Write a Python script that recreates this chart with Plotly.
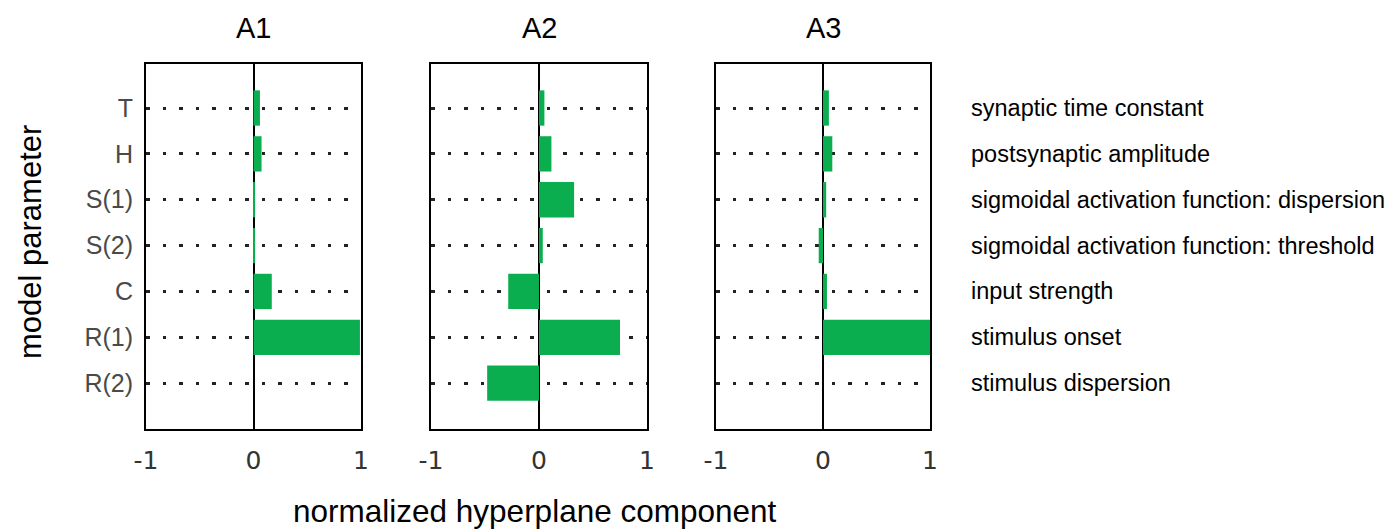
import plotly.graph_objects as go

# Model parameters (rows, top to bottom) and their descriptions
parameters = ["T", "H", "S(1)", "S(2)", "C", "R(1)", "R(2)"]
descriptions = [
    "synaptic time constant",
    "postsynaptic amplitude",
    "sigmoidal activation function: dispersion",
    "sigmoidal activation function: threshold",
    "input strength",
    "stimulus onset",
    "stimulus dispersion",
]

# Normalized hyperplane components for each condition
panel_titles = ["A1", "A2", "A3"]
a1_values = [0.06, 0.075, 0.015, 0.015, 0.17, 0.99, 0.0]
a2_values = [0.05, 0.115, 0.325, 0.035, -0.285, 0.75, -0.48]
a3_values = [0.055, 0.087, 0.03, -0.04, 0.037, 1.0, 0.0]
panel_values = [a1_values, a2_values, a3_values]

x_ticks = [-1, 0, 1]
x_ticktext = ["-1", "0", "1"]

W, H = 1397, 530
BAR_COLOR = "#0bae4f"

# Panel extents in pixels (left, right), shared vertical extent
panel_px = [(146, 361), (431, 647), (716, 930)]
top_px, bottom_px = 64, 429

rows = list(range(1, len(parameters) + 1))

fig = go.Figure()
layout = dict(
    width=W,
    height=H,
    margin=dict(l=0, r=0, t=0, b=0, autoexpand=False),
    paper_bgcolor="white",
    plot_bgcolor="white",
    showlegend=False,
    annotations=[],
)

for i, (vals, (x0, x1)) in enumerate(zip(panel_values, panel_px)):
    n = "" if i == 0 else str(i + 1)
    xa, ya = "x" + n, "y" + n
    fig.add_trace(
        go.Bar(
            x=vals,
            y=rows,
            orientation="h",
            marker=dict(color=BAR_COLOR, line=dict(width=0)),
            width=0.77,
            xaxis=xa,
            yaxis=ya,
            hoverinfo="x+y",
        )
    )
    layout["xaxis" + n] = dict(
        domain=[x0 / W, x1 / W],
        anchor=ya,
        range=[-1, 1],
        tickvals=x_ticks,
        ticktext=x_ticktext,
        tickfont=dict(family="DejaVu Sans", size=25, color="#333333"),
        ticks="",
        ticklabelstandoff=8,
        showgrid=False,
        zeroline=True,
        zerolinecolor="black",
        zerolinewidth=1.5,
        showline=True,
        mirror=True,
        linecolor="black",
        linewidth=2,
        automargin=False,
        fixedrange=True,
    )
    layout["yaxis" + n] = dict(
        domain=[1 - bottom_px / H, 1 - top_px / H],
        anchor=xa,
        range=[8.0, 0.04],
        tickvals=rows,
        ticktext=parameters if i == 0 else [""] * len(rows),
        showticklabels=(i == 0),
        tickfont=dict(family="Liberation Sans", size=25, color="#4a4a4a"),
        ticks="",
        ticklabelstandoff=6,
        showgrid=True,
        gridcolor="#222222",
        gridwidth=2.5,
        griddash="3.5px,13px",
        zeroline=False,
        showline=True,
        mirror=True,
        linecolor="black",
        linewidth=2,
        automargin=False,
        fixedrange=True,
    )
    layout["annotations"].append(
        dict(
            text=panel_titles[i],
            x=(x0 + x1) / 2 / W,
            y=1 - 28 / H,
            xref="paper",
            yref="paper",
            xanchor="center",
            yanchor="middle",
            showarrow=False,
            font=dict(family="Liberation Sans", size=29, color="black"),
        )
    )

# Parameter descriptions to the right of the last panel
for r, desc in zip(rows, descriptions):
    layout["annotations"].append(
        dict(
            text=desc,
            x=969 / W,
            y=r,
            xref="paper",
            yref="y3",
            xanchor="left",
            yanchor="middle",
            showarrow=False,
            font=dict(family="Liberation Sans", size=23.5, color="black"),
        )
    )

# Shared axis titles
layout["annotations"].append(
    dict(
        text="model parameter",
        x=30 / W,
        y=1 - 242 / H,
        xref="paper",
        yref="paper",
        xanchor="center",
        yanchor="middle",
        textangle=-90,
        showarrow=False,
        font=dict(family="Liberation Sans", size=31, color="black"),
    )
)
layout["annotations"].append(
    dict(
        text="normalized hyperplane component",
        x=535 / W,
        y=1 - 511 / H,
        xref="paper",
        yref="paper",
        xanchor="center",
        yanchor="middle",
        showarrow=False,
        font=dict(family="Liberation Sans", size=31.5, color="black"),
    )
)

fig.update_layout(**layout)
fig.write_html("out.html")
